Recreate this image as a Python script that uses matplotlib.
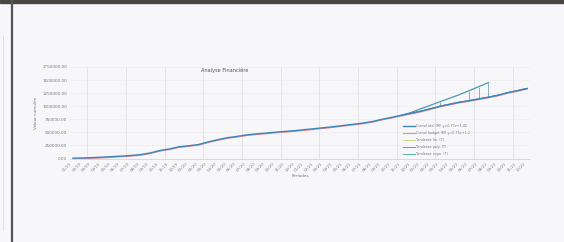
import matplotlib
matplotlib.use("Agg")
import matplotlib.pyplot as plt
import matplotlib.transforms as mtransforms
from matplotlib.patches import Rectangle
from matplotlib.lines import Line2D

# data
months = ["%02d/%02d" % (m, y) for y in (19, 20, 21, 22) for m in range(1, 13)]
cumul_reel = [6000, 10000, 17000, 25000, 35000, 46000, 58000, 75000, 106000, 154000,
              183000, 225000, 244000, 267000, 317000, 360000, 398000, 423000, 452000, 471000,
              487000, 504000, 519000, 533000, 552000, 571000, 590000, 610000, 633000, 654000,
              677000, 708000, 750000, 788000, 827000, 865000, 904000, 952000, 1000000, 1038000,
              1077000, 1106000, 1140000, 1173000, 1211000, 1260000, 1298000, 1340000]
proj_idx = [34, 35, 36, 37, 38, 39, 40, 41, 42, 43]
projection = [827000, 880000, 952000, 1019000, 1087000, 1154000, 1221000, 1298000, 1375000, 1452000]
ecart_idx = [38, 41, 42, 43]
yticks = [0, 250000, 500000, 750000, 1000000, 1250000, 1500000, 1750000]
legend_labels = ["Cumul réel (M) y=0.77x+1.45",
                 "Cumul budget (M) y=0.75x+1.2",
                 "Tendance lin. (T)",
                 "Tendance poly. (T)",
                 "Tendance expo. (T)"]

fig = plt.figure(figsize=(5.64, 2.42), dpi=100)
fig.patch.set_facecolor("#f7f7f9")
# frame of the scanned page
fig.add_artist(Rectangle((0, 0.988), 1, 0.012, transform=fig.transFigure, color="#4a4642"))
fig.add_artist(Line2D([12 / 564, 12 / 564], [0, 1], transform=fig.transFigure, color="#555555", lw=1.6))
fig.add_artist(Line2D([3 / 564, 3 / 564], [0.05, 0.85], transform=fig.transFigure, color="#dddddd", lw=0.6))

ax = fig.add_axes([70 / 564, (242 - 158.5) / 242, 460 / 564, 91.5 / 242])
ax.set_facecolor("#f7f7f9")
x = list(range(len(months)))

# red line sits just under the blue one
off = mtransforms.offset_copy(ax.transData, fig=fig, x=0, y=-0.7, units="dots")
ax.plot(x, cumul_reel, color="#e78a9c", lw=0.8, transform=off, zorder=2, label=legend_labels[1])
ax.plot(proj_idx, projection, color="#4a9ab0", lw=0.9, zorder=3)
ax.plot(x[35:], cumul_reel[35:], color="#c4dc84", lw=0.7, zorder=1, label=legend_labels[2])
ax.plot(x[35:], cumul_reel[35:], color="#8a7cc8", lw=0.7, zorder=1, label=legend_labels[3])
ax.plot(x[35:], cumul_reel[35:], color="#56b0a0", lw=0.7, zorder=1, label=legend_labels[4])
ax.plot(x, cumul_reel, color="#3a86b8", lw=1.0, zorder=4, label=legend_labels[0])
for i in ecart_idx:
    ax.vlines(i, cumul_reel[i], projection[proj_idx.index(i)], color="#6a90a4", lw=0.5, zorder=2)

ax.set_xlim(-0.3, len(months) - 0.7)
ax.set_ylim(0, 1750000)
ax.set_yticks(yticks)
ax.set_yticklabels(["%.2f" % v for v in yticks], fontsize=3, color="#777777")
ax.set_xticks(x)
ax.set_xticklabels(months, fontsize=3, rotation=45, ha="right", color="#888888")
ax.set_xticks([i + 0.5 for i in range(1, 47, 4)], minor=True)
ax.tick_params(which="both", length=0, pad=2)
ax.grid(axis="x", which="minor", color="#dcdcdc", lw=0.5)
ax.grid(axis="y", which="major", color="#ececec", lw=0.4)
for s in ax.spines.values():
    s.set_visible(False)
ax.spines["bottom"].set_visible(True)
ax.spines["bottom"].set_color("#cccccc")
ax.spines["bottom"].set_linewidth(0.5)

ax.text(0.285, 0.965, "Analyse Financière", transform=ax.transAxes, fontsize=3.6,
        color="#555555", va="center")
ax.set_ylabel("Valeur cumulée", fontsize=3, color="#777777", labelpad=3)
ax.set_xlabel("Périodes", fontsize=3, color="#777777", labelpad=1)

h, l = ax.get_legend_handles_labels()
order = [l.index(t) for t in legend_labels]
ax.legend([h[k] for k in order], [l[k] for k in order], loc="upper left",
          bbox_to_anchor=(0.72, 0.39), fontsize=2.4, frameon=False,
          handlelength=3.5, labelspacing=0.9, borderpad=0, handletextpad=0.5,
          labelcolor="#777777")

fig.savefig("out.png", dpi=100, facecolor=fig.get_facecolor())
